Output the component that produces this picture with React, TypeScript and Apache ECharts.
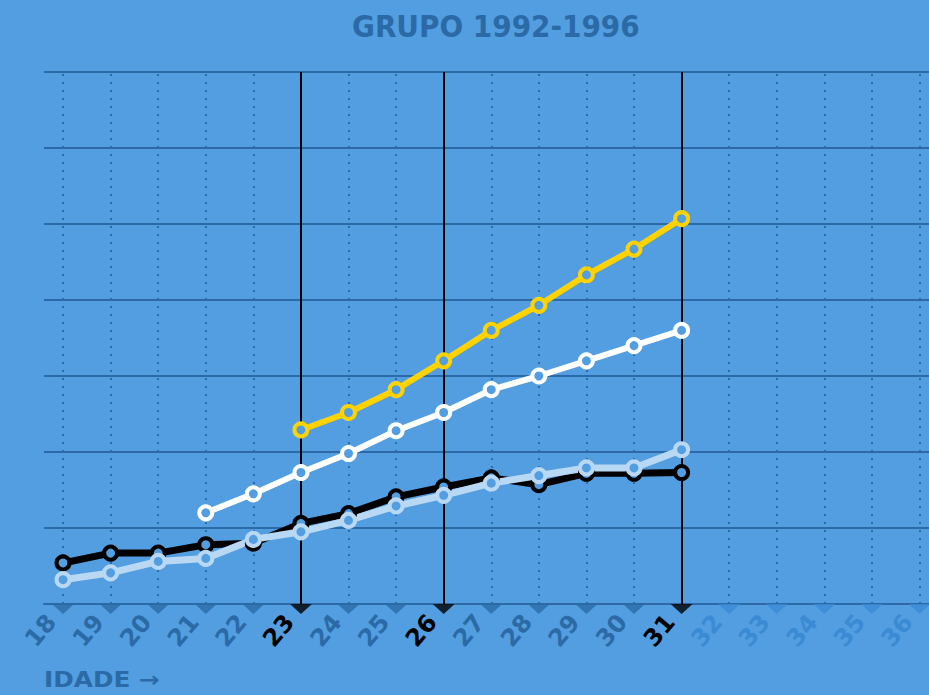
import React, { useEffect, useRef } from "react";
import * as echarts from "echarts";

const ages = [18, 19, 20, 21, 22, 23, 24, 25, 26, 27, 28, 29, 30, 31, 32, 33, 34, 35, 36];
const highlightAges = [23, 26, 31];
const futureAges = [32, 33, 34, 35, 36];

const blackAges = [18, 19, 20, 21, 22, 23, 24, 25, 26, 27, 28, 29, 30, 31];
const blackValues = [0.54, 0.67, 0.67, 0.78, 0.8, 1.06, 1.19, 1.41, 1.54, 1.66, 1.57, 1.72, 1.72, 1.73];

const lightAges = [18, 19, 20, 21, 22, 23, 24, 25, 26, 27, 28, 29, 30, 31];
const lightValues = [0.32, 0.41, 0.56, 0.6, 0.85, 0.95, 1.1, 1.29, 1.43, 1.59, 1.69, 1.79, 1.79, 2.03];

const whiteAges = [21, 22, 23, 24, 25, 26, 27, 28, 29, 30, 31];
const whiteValues = [1.2, 1.45, 1.73, 1.98, 2.28, 2.52, 2.82, 3.0, 3.2, 3.4, 3.6];

const yellowAges = [23, 24, 25, 26, 27, 28, 29, 30, 31];
const yellowValues = [2.29, 2.52, 2.82, 3.2, 3.6, 3.93, 4.33, 4.67, 5.07];

const BG = "#529ee0";
const DARK = "#2b6aa6";
const FUTURE = "#3b8ad4";

function tickColor(a: number) {
  if (highlightAges.includes(a)) return "#000000";
  if (futureAges.includes(a)) return FUTURE;
  return DARK;
}
function tickClass(a: number) {
  if (highlightAges.includes(a)) return "b";
  if (futureAges.includes(a)) return "c";
  return "a";
}

function pairs(xs: number[], ys: number[]) {
  return xs.map((x, i) => [x, ys[i]]);
}

function lineSeries(name: string, xs: number[], ys: number[], color: string, width: number) {
  return {
    name,
    type: "line",
    data: pairs(xs, ys),
    symbol: "circle",
    symbolSize: 13,
    showAllSymbol: true,
    lineStyle: { color, width },
    itemStyle: { color: BG, borderColor: color, borderWidth: 4 },
    silent: true,
    z: 5,
  };
}

export default function App() {
  const ref = useRef<HTMLDivElement>(null);
  useEffect(() => {
    if (!ref.current) return;
    const chart = echarts.init(ref.current, null, { renderer: "svg" });
    const labelFont = { fontFamily: "DejaVu Sans", fontWeight: "bold", fontSize: 24 };
    chart.setOption({
      animation: false,
      backgroundColor: BG,
      title: {
        text: "GRUPO 1992-1996",
        left: 347,
        top: 5,
        textStyle: {
          fontFamily: "DejaVu Sans Condensed",
          fontWeight: "bold",
          fontSize: 31,
          color: DARK,
        },
      },
      grid: { left: 44, right: 0, top: 72, bottom: 91 },
      xAxis: {
        type: "value",
        min: 17.6,
        max: 36.2,
        axisLine: { show: true, onZero: false, lineStyle: { color: DARK, width: 2 } },
        axisTick: { show: false },
        splitLine: { show: false },
        axisLabel: {
          customValues: ages,
          rotate: 50,
          margin: 0,
          padding: [0, 18, 0, 0],
          ...labelFont,
          formatter: (v: number) => `{${tickClass(v)}|${v}}`,
          rich: {
            a: { ...labelFont, color: DARK },
            b: { ...labelFont, color: "#000000" },
            c: { ...labelFont, color: FUTURE },
          },
        },
      },
      yAxis: {
        type: "value",
        min: 0,
        max: 7,
        interval: 1,
        axisLabel: { show: false },
        axisLine: { show: false },
        axisTick: { show: false },
        splitLine: { show: true, lineStyle: { color: DARK, width: 2 } },
      },
      graphic: [
        {
          type: "text",
          x: 44,
          y: 669,
          scaleX: 1.18,
          style: {
            text: "IDADE →",
            fill: DARK,
            font: "bold 21px 'DejaVu Sans'",
            textVerticalAlign: "top",
          },
        },
      ],
      series: [
        {
          name: "guias",
          type: "line",
          data: [],
          silent: true,
          z: 1,
          markLine: {
            silent: true,
            symbol: ["none", "none"],
            label: { show: false },
            animation: false,
            data: ages.map((a) =>
              highlightAges.includes(a)
                ? { xAxis: a, lineStyle: { color: "#000000", width: 2, type: "solid" } }
                : { xAxis: a, lineStyle: { color: DARK, width: 2, type: [2, 6] } }
            ),
          },
        },
        {
          name: "marcas",
          type: "scatter",
          clip: false,
          silent: true,
          z: 4,
          symbol: "path://M0 0 L22 0 L11 10 Z",
          symbolSize: [22, 10],
          symbolOffset: [0, 5],
          data: ages.map((a) => ({ value: [a, 0], itemStyle: { color: tickColor(a) } })),
        },
        lineSeries("preto", blackAges, blackValues, "#000000", 7),
        lineSeries("azul claro", lightAges, lightValues, "#b8d8f4", 7),
        lineSeries("branco", whiteAges, whiteValues, "#ffffff", 6),
        lineSeries("amarelo", yellowAges, yellowValues, "#ffd200", 6),
      ],
    });
    return () => chart.dispose();
  }, []);
  return (
    <div
      ref={ref}
      style={{ position: "fixed", left: 0, top: 0, width: 929, height: 695 }}
    />
  );
}
